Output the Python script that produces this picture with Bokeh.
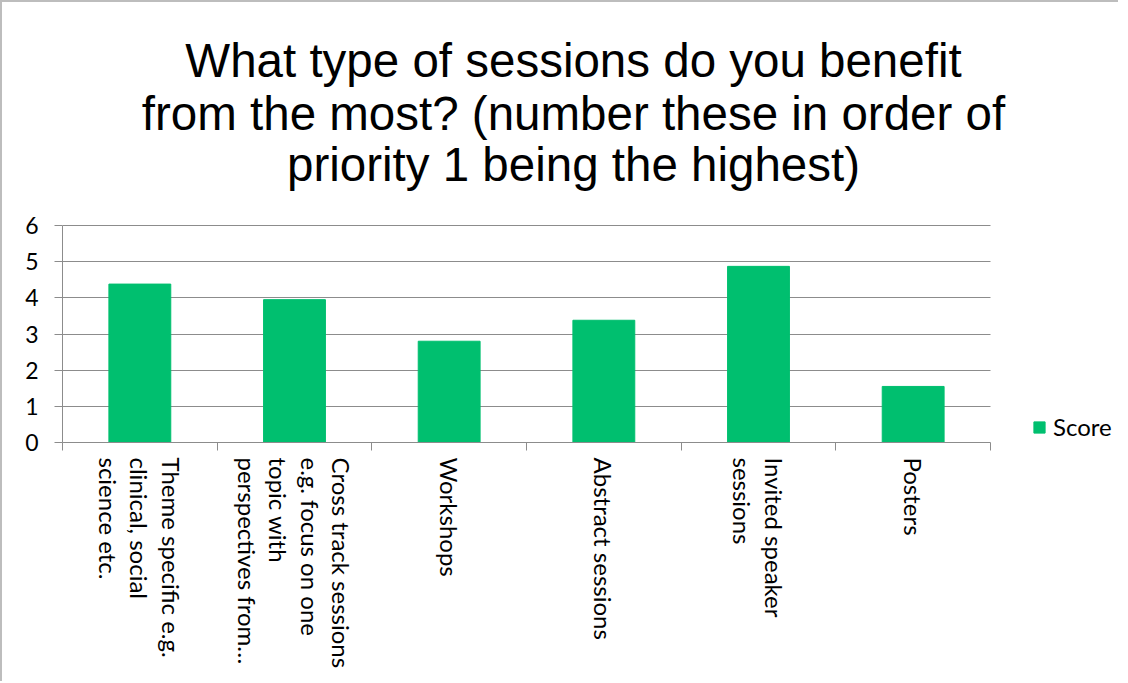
import math
from bokeh.plotting import figure
from bokeh.models import FixedTicker, Range1d, Legend, LegendItem, ColumnDataSource, Label
from bokeh.embed import file_html
from bokeh.resources import INLINE

# ---- data ----
categories = [
    "Theme specific e.g.\nclinical, social\nscience etc.",
    "Cross track sessions\ne.g. focus on one\ntopic with\nperspectives from\u2026",
    "Workshops",
    "Abstract sessions",
    "Invited speaker\nsessions",
    "Posters",
]
scores = [4.38, 3.95, 2.8, 3.38, 4.87, 1.55]
y_ticks = [0, 1, 2, 3, 4, 5, 6]
series_name = "Score"
title_lines = ["What type of sessions do you benefit",
               "from the most? (number these in order of",
               "priority 1 being the highest)"]

# ---- styling / layout constants ----
BAR = "#00BF6F"
GRID = "#8c8c8c"
LABEL_FONT = "Lato"
W, H = 1118, 681
ORIGIN = 2                       # css border width
MB_LEFT = 60
PX_X = 928 / len(categories)     # pixels per category
PX_Y = 217 / (y_ticks[-1] - y_ticks[0])
Y0_FIG = 442 - ORIGIN            # canvas row of the value axis origin
MB_BOTTOM = H - Y0_FIG
frame_w = W - MB_LEFT
frame_h = Y0_FIG
y_end = y_ticks[0] + frame_h / PX_Y
x_end = frame_w / PX_X

centers = [i + 0.5 for i in range(len(categories))]
bounds = list(range(len(categories) + 1))

src = ColumnDataSource(dict(x=centers, top=scores))

p = figure(width=W, height=H, output_backend="svg", toolbar_location=None,
           x_range=Range1d(0, x_end), y_range=Range1d(y_ticks[0], y_end),
           min_border_left=MB_LEFT, min_border_right=0, min_border_top=0,
           min_border_bottom=MB_BOTTOM, title=None)
p.outline_line_color = None
p.background_fill_color = "white"
p.border_fill_color = "white"
p.styles = {"border-left": "2px solid #bdbdbd", "border-top": "2px solid #bdbdbd"}

# title: three centred lines
TITLE_CX = 573
TITLE_BASELINES = [60, 113, 164]
for line, base in zip(title_lines, TITLE_BASELINES):
    p.add_layout(Label(x=TITLE_CX - ORIGIN - MB_LEFT, y=frame_h - (base - ORIGIN),
                       x_units="screen", y_units="screen", text=line,
                       text_align="center", text_baseline="alphabetic",
                       text_font="Liberation Sans", text_font_size="47.5px",
                       text_color="#000000"))

r = p.vbar(x="x", top="top", width=0.4, source=src, fill_color=BAR, line_color=BAR)

# x axis: labels at category centres, ticks at category boundaries
xa = p.xaxis[0]
xa.bounds = (0, len(categories))
xa.ticker = FixedTicker(ticks=centers, minor_ticks=bounds)
xa.major_label_overrides = {c: lab for c, lab in zip(centers, categories)}
xa.major_label_orientation = -math.pi / 2
xa.major_tick_line_color = None
xa.major_tick_in = 0
xa.major_tick_out = 0
xa.minor_tick_in = 0
xa.minor_tick_out = 8
xa.minor_tick_line_color = GRID
xa.axis_line_color = GRID
xa.major_label_text_font = LABEL_FONT
xa.major_label_text_font_size = "24px"
xa.major_label_text_line_height = 1.08
xa.major_label_text_color = "#000000"
xa.major_label_standoff = 7

# y axis
ya = p.yaxis[0]
ya.bounds = (y_ticks[0], y_ticks[-1])
ya.ticker = FixedTicker(ticks=y_ticks)
ya.major_tick_in = 0
ya.major_tick_out = 8
ya.minor_tick_line_color = None
ya.major_tick_line_color = GRID
ya.axis_line_color = GRID
ya.major_label_text_font = LABEL_FONT
ya.major_label_text_font_size = "23px"
ya.major_label_text_color = "#000000"
ya.major_label_standoff = 16

p.xgrid.grid_line_color = None
p.ygrid.grid_line_color = GRID
p.ygrid.ticker = FixedTicker(ticks=y_ticks[1:])
p.ygrid.cross_bounds = (0, len(categories))

legend = Legend(items=[LegendItem(label=series_name, renderers=[r])],
                location=(1032 - ORIGIN - MB_LEFT, 1),
                orientation="vertical",
                label_text_font=LABEL_FONT, label_text_font_size="24px",
                label_text_color="#000000", glyph_width=14, glyph_height=14,
                label_standoff=7, padding=0, margin=0, spacing=0,
                border_line_color=None, background_fill_alpha=0)
p.add_layout(legend, "center")

open("out.html", "w").write(file_html(p, INLINE))
